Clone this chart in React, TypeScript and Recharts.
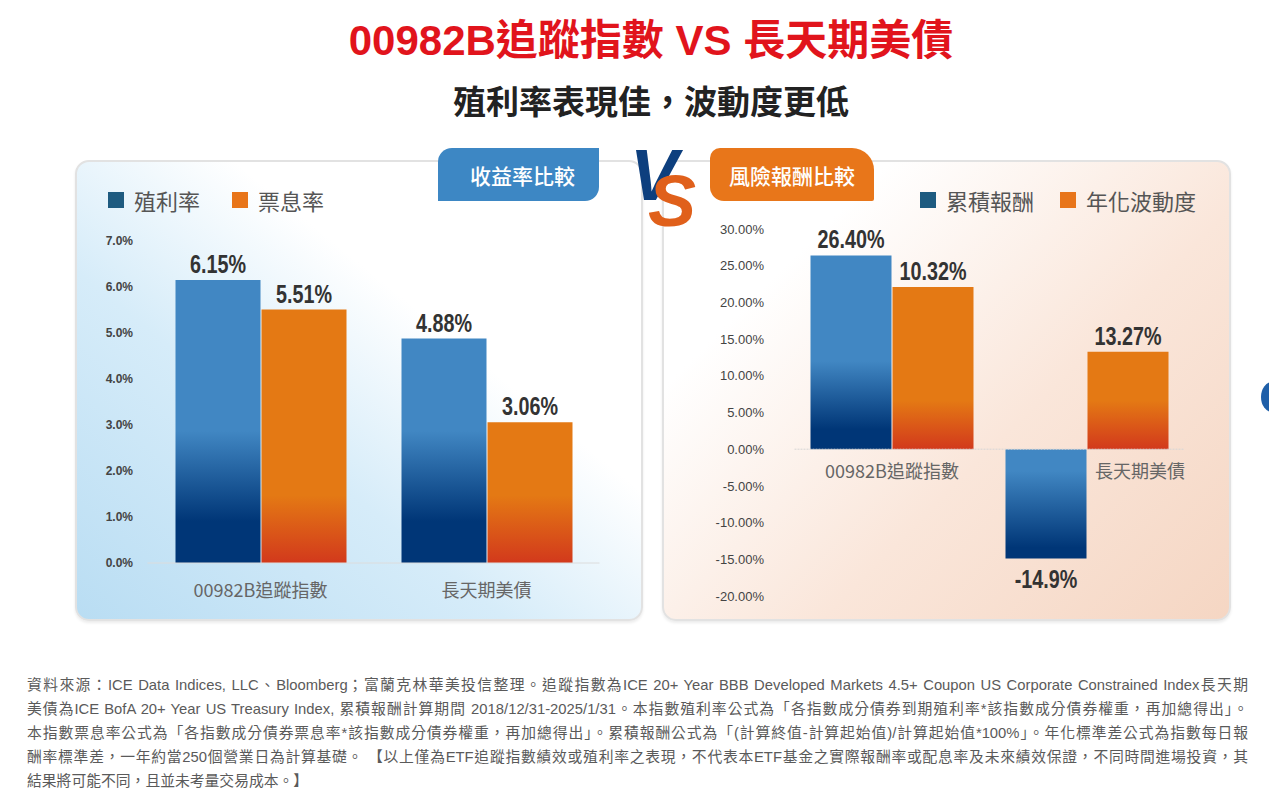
import React from 'react';
import {
  BarChart,
  Bar,
  XAxis,
  YAxis,
  Cell,
  LabelList,
  ReferenceLine
} from 'recharts';

// 收益率比較
const yieldCategories = ['00982B追蹤指數', '長天期美債'];
const ytmValues = [6.15, 4.88];
const couponValues = [5.51, 3.06];
const yieldTicks = [0, 1, 2, 3, 4, 5, 6, 7];

// 風險報酬比較
const riskCategories = ['00982B追蹤指數', '長天期美債'];
const cumReturnValues = [26.4, -14.9];
const cumReturnLabels = ['26.40%', '-14.9%'];
// bar heights as drawn in the source graphic (labels differ from drawn height)
const volValues = [22.1, 13.27];
const volLabels = ['10.32%', '13.27%'];
const riskTicks = [-20, -15, -10, -5, 0, 5, 10, 15, 20, 25, 30];

const footnoteLines = [
  '資料來源：ICE Data Indices, LLC、Bloomberg；富蘭克林華美投信整理。追蹤指數為ICE 20+ Year BBB Developed Markets 4.5+ Coupon US Corporate Constrained Index長天期',
  '美債為ICE BofA 20+ Year US Treasury Index, 累積報酬計算期間 2018/12/31-2025/1/31。本指數殖利率公式為「各指數成分債券到期殖利率*該指數成分債券權重，再加總得出」。',
  '本指數票息率公式為「各指數成分債券票息率*該指數成分債券權重，再加總得出」。累積報酬公式為「(計算終值-計算起始值)/計算起始值*100%」。年化標準差公式為指數每日報',
  '酬率標準差，一年約當250個營業日為計算基礎。 【以上僅為ETF追蹤指數績效或殖利率之表現，不代表本ETF基金之實際報酬率或配息率及未來績效保證，不同時間進場投資，其',
  '結果將可能不同，且並未考量交易成本。】'
];

const yieldData = yieldCategories.map((name, i) => ({
  name,
  ytm: ytmValues[i],
  coupon: couponValues[i]
}));

const riskData = riskCategories.map((name, i) => ({
  name,
  cum: cumReturnValues[i],
  vol: volValues[i]
}));

const CJK = "'Noto Sans CJK TC', 'Noto Sans', sans-serif";
const LATIN = "'Liberation Sans', 'Noto Sans CJK TC', sans-serif";

const BLUE_LIGHT = '#4187c3';
const BLUE_DARK = '#003677';
const ORANGE = '#e47914';
const ORANGE_RED = '#d2391c';

// bold condensed value labels above (or below for negatives) each bar
const makeLabel = (texts: string[]) => (props: any) => {
  const { x, y, width, height, index, value } = props;
  const top = Math.min(y, y + height);
  const bottom = Math.max(y, y + height);
  const ty = value < 0 ? bottom + 29 : top - 7;
  return (
    <text
      transform={`translate(${x + width / 2} ${ty}) scale(0.76 1)`}
      textAnchor="middle"
      fontFamily={LATIN}
      fontWeight="bold"
      fontSize={26}
      fill="#333"
    >
      {texts[index]}
    </text>
  );
};

const legendItem = (color: string, label: string, left: number, top: number) => (
  <div style={{ position: 'absolute', left, top, display: 'flex', alignItems: 'center' }}>
    <div style={{ width: 16, height: 16, background: color, marginRight: 10 }} />
    <span style={{ fontFamily: CJK, fontSize: 22, color: '#555', lineHeight: '24px' }}>{label}</span>
  </div>
);

const App: React.FC = () => {
  const leftPlotBottom = 343;
  const rightZeroY = 19 + (367 * 30) / 50;

  const LeftTick = (props: any) => (
    <text x={props.x} y={leftPlotBottom + 34} textAnchor="middle" fontFamily={CJK} fontSize={18} fill="#666">
      {props.payload.value}
    </text>
  );

  const RightTick = (props: any) => (
    <text
      x={props.x + (props.index === 1 ? 53 : 0)}
      y={rightZeroY + 29}
      textAnchor="middle"
      fontFamily={CJK}
      fontSize={18}
      fill="#666"
    >
      {props.payload.value}
    </text>
  );

  return (
    <div style={{ position: 'absolute', left: 0, top: 0, width: 1269, height: 789, background: '#fff', overflow: 'hidden' }}>
      {/* titles */}
      <div style={{ position: 'absolute', left: 0, top: 14, width: 1302, textAlign: 'center', fontFamily: LATIN, fontWeight: 'bold', fontSize: 42, color: '#e1141c', lineHeight: '54px' }}>
        00982B追蹤指數 VS 長天期美債
      </div>
      <div style={{ position: 'absolute', left: 0, top: 78, width: 1302, textAlign: 'center', fontFamily: CJK, fontWeight: 'bold', fontSize: 33, color: '#222', lineHeight: '44px' }}>
        殖利率表現佳，波動度更低
      </div>

      {/* left panel */}
      <div style={{ position: 'absolute', left: 75, top: 160, width: 564, height: 457, borderRadius: 14, border: '2px solid #e2e2e2', background: 'linear-gradient(to top right, #b9ddf3 0%, #d6ecf9 38%, #ffffff 64%)', boxShadow: '0 2px 3px rgba(0,0,0,0.08)' }} />
      <div style={{ position: 'absolute', left: 438, top: 148, width: 161, height: 53, background: '#3d87c4', borderRadius: '14px 0 14px 0', color: '#fff', fontFamily: CJK, fontSize: 21, fontWeight: 500, display: 'flex', alignItems: 'center', justifyContent: 'center', paddingLeft: 8, boxSizing: 'border-box' }}>
        收益率比較
      </div>
      {legendItem('#1e5b80', '殖利率', 108, 188)}
      {legendItem('#e8751a', '票息率', 232, 188)}

      {/* right panel */}
      <div style={{ position: 'absolute', left: 662, top: 160, width: 565, height: 457, borderRadius: 14, border: '2px solid #e2e2e2', background: 'linear-gradient(135deg, #ffffff 22%, #fae6da 60%, #f5d6c3 100%)', boxShadow: '0 2px 3px rgba(0,0,0,0.08)' }} />
      <div style={{ position: 'absolute', left: 710, top: 148, width: 164, height: 53, background: '#e8761a', borderRadius: '10px 22px 2px 14px', color: '#fff', fontFamily: CJK, fontSize: 21, fontWeight: 500, display: 'flex', alignItems: 'center', justifyContent: 'center' }}>
        風險報酬比較
      </div>
      {legendItem('#1e5b80', '累積報酬', 920, 188)}
      {legendItem('#e8751a', '年化波動度', 1060, 188)}

      {/* VS logo */}
      <svg style={{ position: 'absolute', left: 606, top: 126, overflow: 'visible' }} width={110} height={110}>
        <text x={24} y={74} fontFamily={LATIN} fontWeight={900} fontStyle="italic" fontSize={72}>
          <tspan fill="#0d3f7e">V</tspan>
          <tspan fill="#e0601b" dx={-30} dy={26}>S</tspan>
        </text>
      </svg>

      {/* left chart */}
      <div style={{ position: 'absolute', left: 80, top: 220 }}>
        <BarChart width={540} height={400} data={yieldData} margin={{ top: 21, right: 20.5, left: 0, bottom: 0 }} barGap={1}>
          <defs>
            <linearGradient id="lBlue" gradientUnits="userSpaceOnUse" x1="0" y1="21" x2="0" y2="343">
              <stop offset="0.59" stopColor={BLUE_LIGHT} />
              <stop offset="0.87" stopColor={BLUE_DARK} />
              <stop offset="1" stopColor={BLUE_DARK} />
            </linearGradient>
            <linearGradient id="lOrange" gradientUnits="userSpaceOnUse" x1="0" y1="21" x2="0" y2="343">
              <stop offset="0.79" stopColor={ORANGE} />
              <stop offset="1" stopColor={ORANGE_RED} />
            </linearGradient>
          </defs>
          <XAxis dataKey="name" height={57} axisLine={{ stroke: '#dcdcdc' }} tickLine={false} tick={LeftTick} interval={0} />
          <YAxis
            width={67.5}
            domain={[0, 7]}
            ticks={yieldTicks}
            tickFormatter={(v: number) => v.toFixed(1) + '%'}
            axisLine={false}
            tickLine={false}
            tickSize={0}
            tickMargin={14.5}
            tick={{ fontFamily: LATIN, fontSize: 12, fill: '#444', fontWeight: 'bold' }}
          />
          <Bar dataKey="ytm" barSize={85} fill="url(#lBlue)" isAnimationActive={false}>
            <LabelList dataKey="ytm" content={makeLabel(ytmValues.map((v) => v.toFixed(2) + '%'))} />
          </Bar>
          <Bar dataKey="coupon" barSize={85} fill="url(#lOrange)" isAnimationActive={false}>
            <LabelList dataKey="coupon" content={makeLabel(couponValues.map((v) => v.toFixed(2) + '%'))} />
          </Bar>
        </BarChart>
      </div>

      {/* right chart */}
      <div style={{ position: 'absolute', left: 700, top: 210 }}>
        <BarChart width={510} height={400} data={riskData} margin={{ top: 19, right: 25.5, left: 0, bottom: 0 }} barGap={1}>
          <defs>
            <linearGradient id="rBlue" gradientUnits="userSpaceOnUse" x1="0" y1="19" x2="0" y2={rightZeroY}>
              <stop offset="0.6" stopColor={BLUE_LIGHT} />
              <stop offset="0.91" stopColor={BLUE_DARK} />
              <stop offset="1" stopColor={BLUE_DARK} />
            </linearGradient>
            <linearGradient id="rBlueNeg" x1="0" y1="0" x2="0" y2="1">
              <stop offset="0.2" stopColor={BLUE_LIGHT} />
              <stop offset="0.9" stopColor={BLUE_DARK} />
              <stop offset="1" stopColor={BLUE_DARK} />
            </linearGradient>
            <linearGradient id="rOrange" gradientUnits="userSpaceOnUse" x1="0" y1="19" x2="0" y2={rightZeroY}>
              <stop offset="0.78" stopColor={ORANGE} />
              <stop offset="1" stopColor={ORANGE_RED} />
            </linearGradient>
          </defs>
          <XAxis dataKey="name" height={14} axisLine={false} tickLine={false} tick={RightTick} interval={0} />
          <YAxis
            width={94.5}
            domain={[-20, 30]}
            ticks={riskTicks}
            tickFormatter={(v: number) => v.toFixed(2) + '%'}
            axisLine={false}
            tickLine={false}
            tickSize={0}
            tickMargin={30.5}
            tick={{ fontFamily: LATIN, fontSize: 13, fill: '#444' }}
          />
          <ReferenceLine y={0} stroke="#d6d6d6" strokeDasharray="2 1" />
          <Bar dataKey="cum" barSize={81} isAnimationActive={false}>
            {riskData.map((d, i) => (
              <Cell key={i} fill={d.cum < 0 ? 'url(#rBlueNeg)' : 'url(#rBlue)'} />
            ))}
            <LabelList dataKey="cum" content={makeLabel(cumReturnLabels)} />
          </Bar>
          <Bar dataKey="vol" barSize={81} fill="url(#rOrange)" isAnimationActive={false}>
            <LabelList dataKey="vol" content={makeLabel(volLabels)} />
          </Bar>
        </BarChart>
      </div>

      {/* partial element at right edge */}
      <div style={{ position: 'absolute', left: 1261, top: 382, width: 22, height: 30, borderRadius: '50%', background: '#1f5fa8' }} />

      {/* footnote */}
      <div style={{ position: 'absolute', left: 27, top: 673, width: 1221, fontFamily: LATIN, fontSize: 14.8, color: '#5a5a5a', lineHeight: '24px' }}>
        {footnoteLines.map((line, i) => (
          <div
            key={i}
            style={{
              whiteSpace: 'nowrap',
              textAlign: i < footnoteLines.length - 1 ? 'justify' : 'left',
              textAlignLast: i < footnoteLines.length - 1 ? 'justify' : 'left'
            }}
          >
            {line}
          </div>
        ))}
      </div>
    </div>
  );
};

export default App;
